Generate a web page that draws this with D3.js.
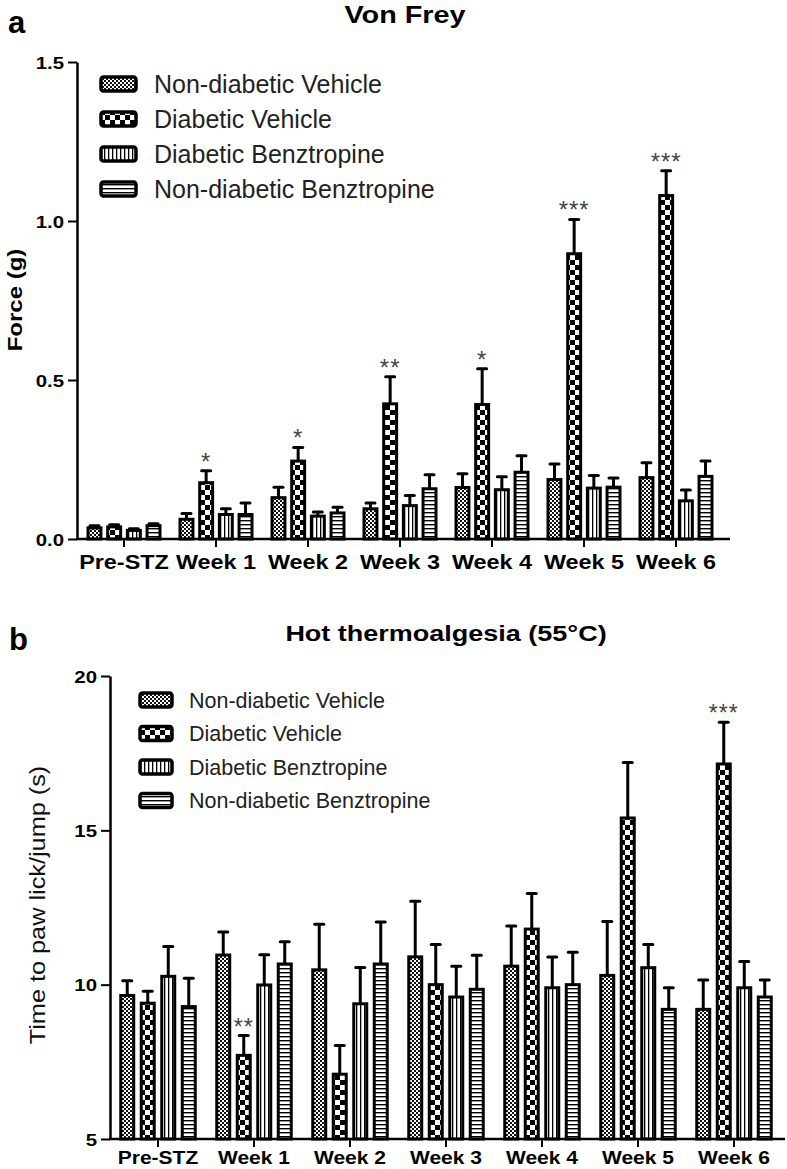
<!DOCTYPE html>
<html><head><meta charset="utf-8">
<script src="https://cdn.jsdelivr.net/npm/d3@7"></script>
<style>
body{margin:0;background:#fff;}
svg{display:block;font-family:"Liberation Sans",Arial,sans-serif;}
</style></head>
<body><svg id="chart" width="787" height="1169"></svg>
<script>
// ---------- DATA ----------
const categories = ["Pre-STZ","Week 1","Week 2","Week 3","Week 4","Week 5","Week 6"];
const groups = ["Non-diabetic Vehicle","Diabetic Vehicle","Diabetic Benztropine","Non-diabetic Benztropine"];

// Von Frey force (g): means and SEM
const vfNonDiabeticVehicle     = [0.035,0.062,0.130,0.095,0.162,0.187,0.193];
const vfDiabeticVehicle        = [0.038,0.177,0.245,0.425,0.423,0.897,1.080];
const vfDiabeticBenztropine    = [0.027,0.077,0.072,0.105,0.155,0.160,0.120];
const vfNonDiabeticBenztropine = [0.042,0.077,0.082,0.158,0.210,0.163,0.197];
const vfSemNDV = [0.007,0.018,0.033,0.018,0.043,0.049,0.047];
const vfSemDV  = [0.007,0.038,0.043,0.085,0.112,0.108,0.078];
const vfSemDB  = [0.005,0.018,0.013,0.032,0.041,0.040,0.034];
const vfSemNDB = [0.006,0.036,0.018,0.044,0.052,0.029,0.048];
const vfStars  = ["","*","*","**","*","***","***"];
const vfTicks  = [0,0.5,1.0,1.5];

// Hot thermoalgesia latency (s): means and SEM
const htNonDiabeticVehicle     = [9.65,10.96,10.48,10.90,10.60,10.30,9.20];
const htDiabeticVehicle        = [9.40,7.71,7.10,10.00,11.80,15.40,17.15];
const htDiabeticBenztropine    = [10.27,9.99,9.38,9.60,9.90,10.55,9.90];
const htNonDiabeticBenztropine = [9.29,10.67,10.67,9.85,10.00,9.20,9.60];
const htSemNDV = [0.48,0.75,1.48,1.80,1.30,1.75,0.95];
const htSemDV  = [0.39,0.64,0.93,1.30,1.15,1.80,1.35];
const htSemDB  = [0.97,0.98,1.18,1.00,1.00,0.75,0.85];
const htSemNDB = [0.92,0.72,1.36,1.10,1.05,0.70,0.55];
const htStars  = ["","**","","","","","***"];
const htTicks  = [5,10,15,20];

// ---------- DRAW ----------
const svg = d3.select("#chart");
svg.append("rect").attr("width",787).attr("height",1169).attr("fill","#fff");
const FONT = '"Liberation Sans",Arial,sans-serif';
const SX = 1.2; // horizontal stretch of bold labels

// patterns
const defs = svg.append("defs");
const patIds = ["pNDV","pDV","pDB","pNDB"];
(function(){
  let p = defs.append("pattern").attr("id","pNDV").attr("patternUnits","userSpaceOnUse").attr("width",4).attr("height",4);
  p.append("rect").attr("width",4).attr("height",4).attr("fill","#fff");
  p.append("rect").attr("width",2).attr("height",2).attr("fill","#111");
  p.append("rect").attr("x",2).attr("y",2).attr("width",2).attr("height",2).attr("fill","#111");
  p = defs.append("pattern").attr("id","pDV").attr("patternUnits","userSpaceOnUse").attr("width",10).attr("height",10);
  p.append("rect").attr("width",10).attr("height",10).attr("fill","#fff");
  p.append("rect").attr("width",5).attr("height",5).attr("fill","#000");
  p.append("rect").attr("x",5).attr("y",5).attr("width",5).attr("height",5).attr("fill","#000");
  p = defs.append("pattern").attr("id","pDB").attr("patternUnits","userSpaceOnUse").attr("width",4).attr("height",4);
  p.append("rect").attr("width",4).attr("height",4).attr("fill","#fff");
  p.append("rect").attr("x",0).attr("width",1.3).attr("height",4).attr("fill","#000");
  p = defs.append("pattern").attr("id","pNDB").attr("patternUnits","userSpaceOnUse").attr("width",4).attr("height",4);
  p.append("rect").attr("width",4).attr("height",4).attr("fill","#fff");
  p.append("rect").attr("y",0).attr("width",4).attr("height",1.4).attr("fill","#000");
})();

function boldText(x,y,txt,size,anchor,rot){
  return svg.append("text")
    .attr("transform",`translate(${x},${y}) rotate(${rot||0}) scale(${SX},1)`)
    .attr("text-anchor",anchor||"start")
    .attr("font-family",FONT).attr("font-weight","bold")
    .attr("font-size",size).attr("fill","#000").text(txt);
}

function panel(cfg){
  const means = cfg.means, sems = cfg.sems;
  const x0 = d3.scaleBand().domain(categories).range(cfg.xRange).paddingInner(0).paddingOuter(0);
  const innerW = cfg.innerW;
  const x1 = d3.scaleBand().domain(groups).range([-innerW/2, innerW/2]).paddingInner(cfg.innerPad);
  const y = d3.scaleLinear().domain(cfg.yDomain).range(cfg.yRange);
  const base = y(cfg.yDomain[0]);
  const bw = x1.bandwidth();
  const g = svg.append("g");

  const rows = [];
  categories.forEach((c,ci)=>groups.forEach((s,si)=>rows.push({c,ci,s,si,v:means[si][ci],e:sems[si][ci]})));
  const cx = d=>x0(d.c)+x0.bandwidth()/2+x1(d.s)+bw/2;

  // error bars (upper only)
  const eb = g.selectAll("g.eb").data(rows).join("g");
  eb.append("line")
    .attr("x1",cx).attr("x2",cx)
    .attr("y1",d=>y(d.v)).attr("y2",d=>y(d.v+d.e))
    .attr("stroke","#000").attr("stroke-width",3);
  eb.append("line")
    .attr("x1",d=>cx(d)-4.5).attr("x2",d=>cx(d)+4.5)
    .attr("y1",d=>y(d.v+d.e)).attr("y2",d=>y(d.v+d.e))
    .attr("stroke","#000").attr("stroke-width",3).attr("stroke-linecap","round");

  // bars
  g.selectAll("rect.bar").data(rows).join("rect")
    .attr("x",d=>x0(d.c)+x0.bandwidth()/2+x1(d.s)+1.5)
    .attr("width",bw-3)
    .attr("y",d=>y(d.v))
    .attr("height",d=>base-y(d.v))
    .attr("fill",d=>`url(#${patIds[d.si]})`)
    .attr("stroke","#000").attr("stroke-width",3);

  // stars above Diabetic Vehicle
  const dvi = 1;
  categories.forEach((c,ci)=>{
    if(!cfg.stars[ci]) return;
    svg.append("text")
      .attr("x",x0(c)+x0.bandwidth()/2+x1(groups[dvi])+bw/2)
      .attr("y",y(means[dvi][ci]+sems[dvi][ci])-1)
      .attr("text-anchor","middle").attr("font-family",FONT)
      .attr("font-size",cfg.starSize).attr("fill","#444").attr("letter-spacing",1)
      .text(cfg.stars[ci]);
  });

  // y axis
  const ya = svg.append("g").attr("transform",`translate(${cfg.xAxisX},0)`)
    .call(d3.axisLeft(y).tickValues(cfg.ticks).tickFormat(cfg.fmt).tickSize(9).tickSizeOuter(0).tickPadding(4));
  ya.select(".domain").attr("stroke-width",2.5);
  ya.selectAll(".tick line").attr("stroke-width",2);
  ya.selectAll(".tick text").attr("font-family",FONT).attr("font-weight","bold")
    .attr("font-size",cfg.tickSize).attr("fill","#000")
    .attr("x",-13/SX).attr("dy","0.36em").attr("transform",`scale(${SX},1)`);

  // x axis
  const xa = svg.append("g").attr("transform",`translate(0,${base})`)
    .call(d3.axisBottom(x0).tickSize(8).tickSizeOuter(0));
  xa.select(".domain").remove();
  xa.selectAll(".tick line").attr("stroke-width",2);
  xa.selectAll(".tick text").attr("font-family",FONT).attr("font-weight","bold")
    .attr("font-size",cfg.xLabSize).attr("fill","#000")
    .attr("y",cfg.xLabY).attr("dy",0).attr("transform",`scale(${SX},1)`);
  svg.append("line").attr("x1",cfg.xAxisX-1).attr("x2",cfg.xAxisEnd)
    .attr("y1",base).attr("y2",base).attr("stroke","#000").attr("stroke-width",2.5);

  // legend
  const lg = svg.append("g");
  groups.forEach((s,i)=>{
    const cy = cfg.legY + i*cfg.legStep;
    lg.append("rect").attr("x",cfg.legX).attr("y",cy-cfg.swH/2).attr("width",cfg.swW).attr("height",cfg.swH)
      .attr("rx",2.5).attr("fill",`url(#${patIds[i]})`).attr("stroke","#000").attr("stroke-width",3.5);
    lg.append("text").attr("x",cfg.legTextX).attr("y",cy).attr("dy","0.36em")
      .attr("font-family",FONT).attr("font-size",cfg.legSize).attr("fill","#222").text(s);
  });
}

// Panel a
panel({
  means:[vfNonDiabeticVehicle,vfDiabeticVehicle,vfDiabeticBenztropine,vfNonDiabeticBenztropine],
  sems:[vfSemNDV,vfSemDV,vfSemDB,vfSemNDB],
  stars:vfStars, ticks:vfTicks, fmt:d3.format(".1f"),
  xRange:[78,722], innerW:75, innerPad:0.19,
  yDomain:[0,1.5], yRange:[539,62],
  xAxisX:77, xAxisEnd:730, tickSize:17, xLabSize:19.5, xLabY:30, starSize:24,
  legX:101, legY:84, legStep:35, swW:35, swH:14, legTextX:154, legSize:25
});
// Panel b
panel({
  means:[htNonDiabeticVehicle,htDiabeticVehicle,htDiabeticBenztropine,htNonDiabeticBenztropine],
  sems:[htSemNDV,htSemDV,htSemDB,htSemNDB],
  stars:htStars, ticks:htTicks, fmt:d3.format("d"),
  xRange:[110,782], innerW:77.5, innerPad:0.22,
  yDomain:[5,20], yRange:[1139,676],
  xAxisX:110, xAxisEnd:785, tickSize:17, xLabSize:17.5, xLabY:25, starSize:23,
  legX:140, legY:700, legStep:33.5, swW:32, swH:14, legTextX:189, legSize:21.5
});

// titles & panel letters
boldText(405,23,"Von Frey",24,"middle");
boldText(446,641,"Hot thermoalgesia (55°C)",22.5,"middle");
svg.append("text").attr("x",8).attr("y",33).attr("font-family",FONT).attr("font-weight","bold").attr("font-size",31).text("a");
svg.append("text").attr("x",9).attr("y",650).attr("font-family",FONT).attr("font-weight","bold").attr("font-size",31).text("b");
// axis titles
boldText(22,300,"Force (g)",20,"middle",-90);
svg.append("text").attr("transform","translate(45,905) rotate(-90) scale(1.15,1)").attr("text-anchor","middle")
  .attr("font-family",FONT).attr("font-size",22).attr("fill","#111").text("Time to paw lick/jump (s)");
</script></body></html>
